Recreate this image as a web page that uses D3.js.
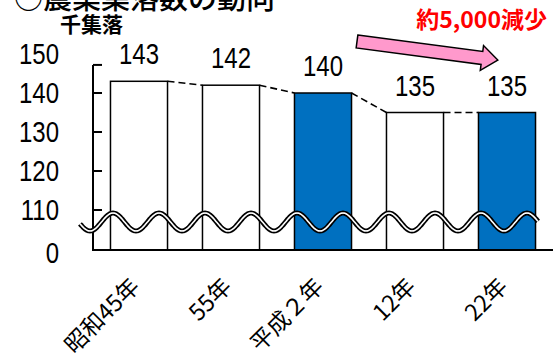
<!DOCTYPE html>
<html>
<head>
<meta charset="utf-8">
<script src="https://cdn.jsdelivr.net/npm/d3@7"></script>
<style>
  html, body { margin: 0; padding: 0; background: #fff; }
  svg { display: block; }
</style>
</head>
<body>
<svg id="chart" width="556" height="356"></svg>
<script>
// Survey years and number of agricultural settlements (thousands)
const categories = ["昭和45年", "55年", "平成２年", "12年", "22年"];
const values = [143, 142, 140, 135, 135];
const highlighted = [false, false, true, false, true];
const yTickValues = [0, 110, 120, 130, 140, 150];
const yTickMarks = [110, 120, 130, 140];
const yAxisTop = 147.2;

const title = "○農業集落数の動向";
const unitLabel = "千集落";
const changeNote = "約5,000減少";

const svg = d3.select("#chart");
const numFont = "'Liberation Sans', Arial, sans-serif";
const cjkFont = "'Noto Sans CJK JP', 'Noto Sans', sans-serif";

// Broken value axis: 0 sits just under the 110–150 range
const y = d3.scaleLinear().domain([0, 110, 150]).range([250, 210, 54]);
const x = d3.scaleBand().domain(categories).range([93, 553])
  .paddingInner(0.38).paddingOuter(0.19);

// Title (partly above the top edge)
svg.append("text").attr("x", 14).attr("y", 9)
  .attr("font-family", cjkFont).attr("font-size", 29).attr("font-weight", 500)
  .attr("fill", "#000").text(title);

svg.append("text").attr("x", 60).attr("y", 32)
  .attr("font-family", cjkFont).attr("font-size", 21).attr("font-weight", 700)
  .attr("fill", "#000").text(unitLabel);

// Bars
svg.append("g").selectAll("rect").data(values).join("rect")
  .attr("x", (d, i) => x(categories[i]))
  .attr("y", d => y(d))
  .attr("width", x.bandwidth())
  .attr("height", d => y(0) - y(d))
  .attr("fill", (d, i) => highlighted[i] ? "#0070C0" : "#fff")
  .attr("stroke", "#000").attr("stroke-width", 1.5);

// Dashed connectors between neighbouring bar tops
const pairs = d3.pairs(values.map((v, i) => ({ v, c: categories[i] })));
svg.append("g").selectAll("line").data(pairs).join("line")
  .attr("x1", p => x(p[0].c) + x.bandwidth())
  .attr("y1", p => y(p[0].v))
  .attr("x2", p => x(p[1].c))
  .attr("y2", p => y(p[1].v))
  .attr("stroke", "#000").attr("stroke-width", 1.6)
  .attr("stroke-dasharray", "7,4");

// Value labels
svg.append("g").selectAll("text").data(values).join("text")
  .attr("transform", (d, i) =>
    `translate(${x(categories[i]) + x.bandwidth() / 2},${y(d) - 17}) scale(0.8,1)`)
  .attr("text-anchor", "middle")
  .attr("font-family", numFont).attr("font-size", 30)
  .attr("fill", "#000").text(d => d);

// Axes
const axisG = svg.append("g").attr("stroke", "#000").attr("stroke-width", 2);
axisG.append("line")
  .attr("x1", x.range()[0]).attr("x2", x.range()[0])
  .attr("y1", y(yAxisTop)).attr("y2", y(0));
axisG.append("line")
  .attr("x1", x.range()[0] - 1).attr("x2", x.range()[1])
  .attr("y1", y(0)).attr("y2", y(0));
axisG.selectAll("line.tick").data(yTickMarks.concat([yAxisTop])).join("line")
  .attr("class", "tick")
  .attr("x1", x.range()[0]).attr("x2", x.range()[0] + 9)
  .attr("y1", d => y(d)).attr("y2", d => y(d));

svg.append("g").selectAll("text").data(yTickValues).join("text")
  .attr("transform", d => `translate(59,${y(d) + 10 + (d === 0 ? 3 : 0)}) scale(0.8,1)`)
  .attr("text-anchor", "end")
  .attr("font-family", numFont).attr("font-size", 30)
  .attr("fill", "#000").text(d => d);

// Category labels, rotated
svg.append("g").selectAll("text").data(categories).join("text")
  .attr("transform", d => `translate(${x(d) + x.bandwidth() / 2 + 2},288) rotate(-45)`)
  .attr("text-anchor", "end")
  .attr("font-family", cjkFont).attr("font-size", 23)
  .attr("fill", "#000").text(d => d);

// Axis-break wave drawn across the plot
const wavePts = d3.range(80, 539, 1).map(px =>
  [px, 222 - 9 * Math.cos((px - 113) / 46 * 2 * Math.PI)]);
const waveLine = d3.line().curve(d3.curveBasis);
svg.append("path").attr("d", waveLine(wavePts))
  .attr("fill", "none").attr("stroke", "#000").attr("stroke-width", 5);
svg.append("path").attr("d", waveLine(wavePts))
  .attr("fill", "none").attr("stroke", "#fff").attr("stroke-width", 1.6);

// Decrease arrow and note
const arrowLen = 142, shaftHalf = 6.5, headLen = 16, headHalf = 12.5;
const arrowShape = [
  [0, -shaftHalf], [arrowLen - headLen, -shaftHalf], [arrowLen - headLen, -headHalf],
  [arrowLen, 0], [arrowLen - headLen, headHalf], [arrowLen - headLen, shaftHalf],
  [0, shaftHalf]
];
svg.append("path")
  .attr("transform", "translate(357,41.5) rotate(7.5)")
  .attr("d", d3.line()(arrowShape) + "Z")
  .attr("fill", "#FF99CC").attr("stroke", "#000").attr("stroke-width", 1.5)
  .attr("stroke-linejoin", "miter");

svg.append("text").attr("x", 547).attr("y", 28)
  .attr("text-anchor", "end")
  .attr("font-family", cjkFont).attr("font-size", 23).attr("font-weight", 700)
  .attr("fill", "#FF0000").text(changeNote);
</script>
</body>
</html>
